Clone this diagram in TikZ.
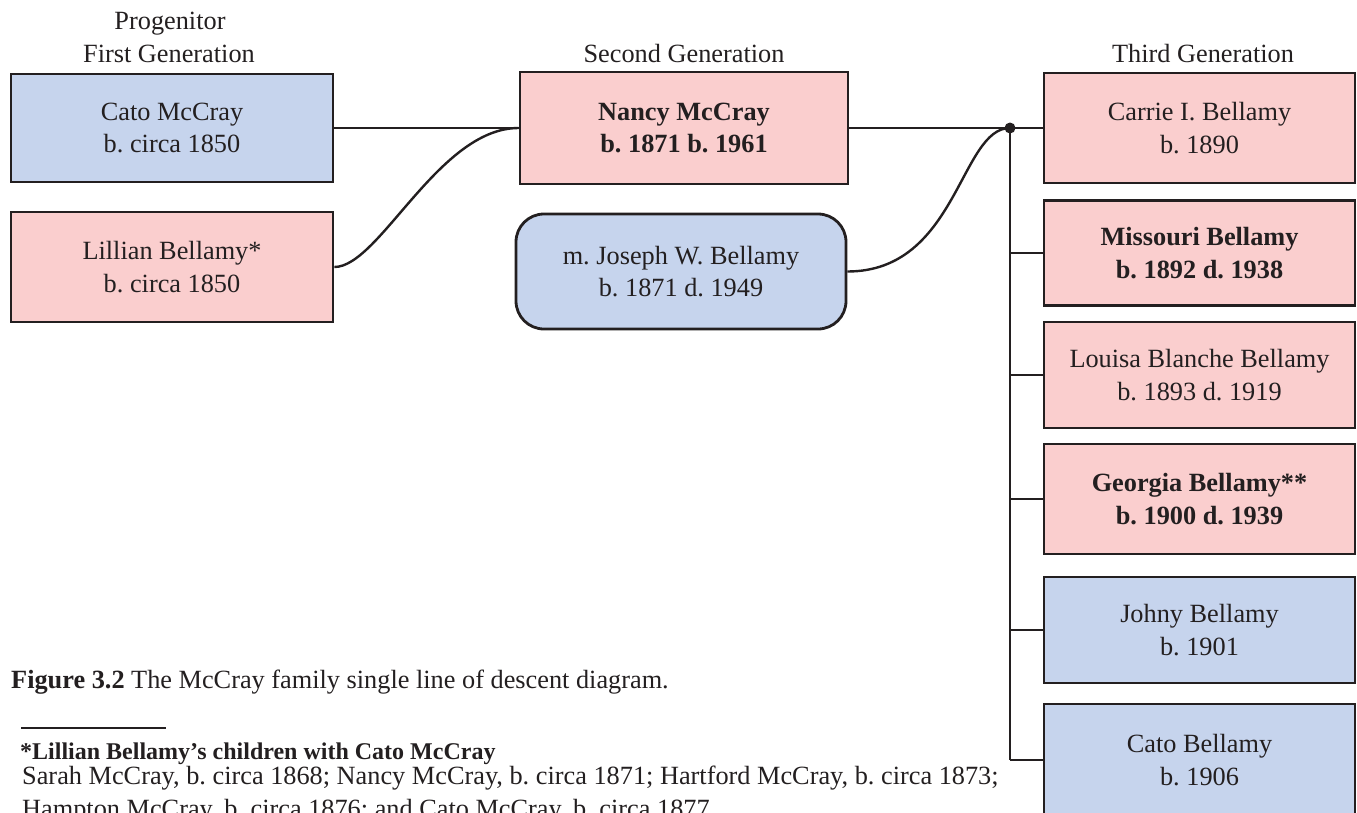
\documentclass[tikz,border=0pt]{standalone}
\usepackage{fontspec}
\setmainfont{Liberation Serif}
\frenchspacing
\definecolor{bluefill}{RGB}{198,212,237}
\definecolor{pinkfill}{RGB}{250,206,206}
\definecolor{ink}{RGB}{35,31,32}
\begin{document}
\begin{tikzpicture}[x=1pt,y=-1pt,
  every node/.style={font=\fontsize{26.3}{32.5}\selectfont, text=ink},
  person/.style={draw=ink, line width=2.8pt, align=center, inner sep=0pt},
  bluebox/.style={person, fill=bluefill},
  pinkbox/.style={person, fill=pinkfill},
  gen3/.style={minimum width=311pt},
  conn/.style={draw=ink, line width=2.4pt},
  label/.style={anchor=base, inner sep=0pt},
  note/.style={anchor=base west, inner sep=0pt}
]
\useasboundingbox (0,0) rectangle (1357,812);

% headings
\node[label] (hprog) at (170,29) {Progenitor};
\node[label] (hfirst) at (169,62) {First Generation};
\node[label] (hsecond) at (684,62) {Second Generation};
\node[label] (hthird) at (1203,62) {Third Generation};

% first generation
\node[bluebox, minimum width=322pt, minimum height=108pt] (cato) at (172,128) {Cato McCray\\b. circa 1850};
\node[pinkbox, minimum width=322pt, minimum height=110pt] (lillian) at (172,267) {Lillian Bellamy*\\b. circa 1850};

% second generation
\node[pinkbox, minimum width=328pt, minimum height=112pt] (nancy) at (684,128) {\textbf{Nancy McCray}\\\textbf{b. 1871 b. 1961}};
\node[bluebox, rounded corners=28pt, minimum width=330pt, minimum height=115pt] (joseph) at (681,271.5) {m. Joseph W. Bellamy\\b. 1871 d. 1949};

% third generation
\node[pinkbox, gen3, minimum height=110pt] (carrie) at (1199.5,128) {Carrie I. Bellamy\\b. 1890};
\node[pinkbox, gen3, minimum height=105pt] (missouri) at (1199.5,253) {\textbf{Missouri Bellamy}\\\textbf{b. 1892 d. 1938}};
\node[pinkbox, gen3, minimum height=106pt] (louisa) at (1199.5,375) {Louisa Blanche Bellamy\\b. 1893 d. 1919};
\node[pinkbox, gen3, minimum height=110pt] (georgia) at (1199.5,499) {\textbf{Georgia Bellamy**}\\\textbf{b. 1900 d. 1939}};
\node[bluebox, gen3, minimum height=106pt] (johny) at (1199.5,630) {Johny Bellamy\\b. 1901};
\node[bluebox, gen3, minimum height=112pt] (catob) at (1199.5,760) {Cato Bellamy\\b. 1906};

% connectors
\coordinate (hub) at (1010,128);
\draw[conn] (cato.east) -- (nancy.west);
\draw[conn] (lillian.east) to[out=0, in=180, out distance=45pt, in distance=80pt] (nancy.west);
\draw[conn] (nancy.east) -- (carrie.west);
\draw[conn] (joseph.east) to[out=0, in=180, out distance=110pt, in distance=50pt] (hub);
\draw[conn] (hub) -- (hub |- catob.west);
\foreach \b in {missouri,louisa,georgia,johny,catob}{
  \draw[conn] (hub |- \b.west) -- (\b.west);
}
\fill[ink] (hub) circle (5.5pt);

% caption and footnote
\node[note] (cap) at (11,688) {\textbf{Figure 3.2} The McCray family single line of descent diagram.};
\coordinate (ruleA) at (21,728);
\coordinate (ruleB) at (166,728);
\draw[ink, line width=2pt] (ruleA) -- (ruleB);
\node[note, font=\fontsize{24}{30}\selectfont] (fnhead) at (20,759) {\textbf{*Lillian Bellamy’s children with Cato McCray}};
\node[note] (fn1) at (22,784) {Sarah McCray, b. circa 1868; Nancy McCray, b. circa 1871; Hartford McCray, b. circa 1873;};
\node[note] (fn2) at (22,817) {Hampton McCray, b. circa 1876; and Cato McCray, b. circa 1877.};
\end{tikzpicture}
\end{document}
